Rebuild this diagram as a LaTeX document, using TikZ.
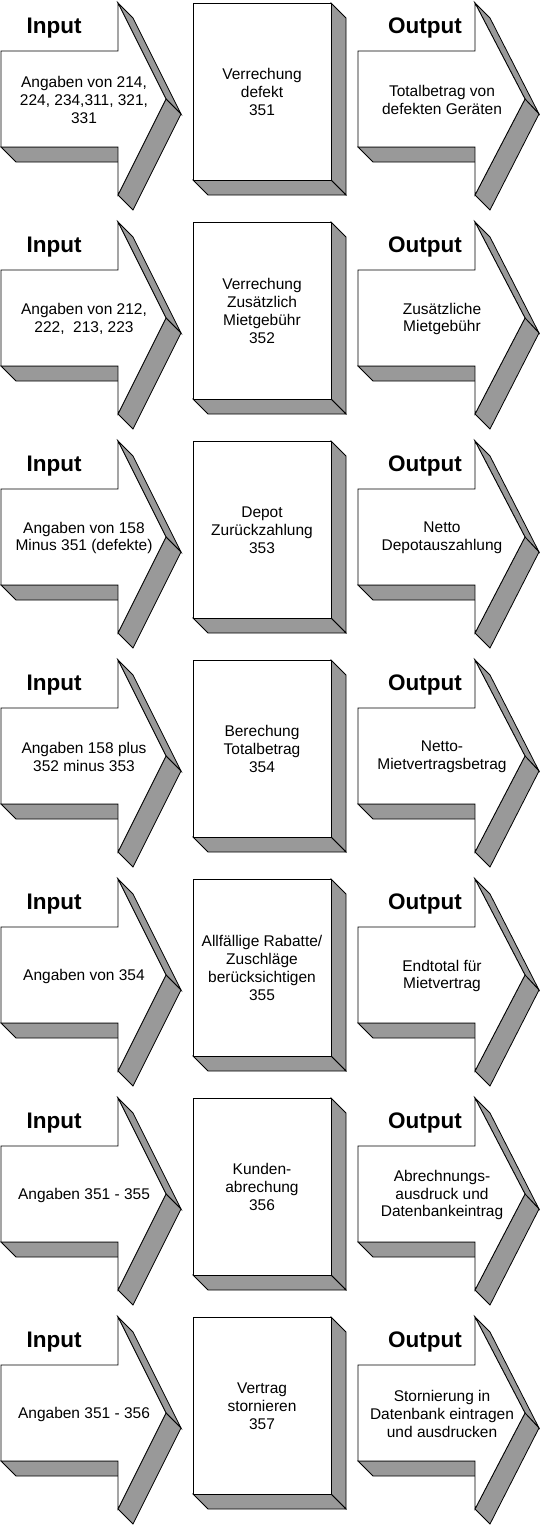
\documentclass[tikz,border=0pt]{standalone}
\usepackage{fontspec}
\setmainfont{Liberation Sans}
\definecolor{sidegray}{RGB}{153,153,153}

\begin{document}
\begin{tikzpicture}[x=1pt,y=-1pt,
        frontface/.style={draw=black, line width=0.8pt, line join=miter, fill=white},
        sideface/.style={draw=black, line width=0.8pt, line join=miter, fill=sidegray},
        heading/.style={font=\fontsize{22.5}{26}\selectfont\bfseries, anchor=base},
        bodytext/.style={font=\fontsize{15.5}{17.8}\selectfont, align=center, inner sep=0pt}]
    \useasboundingbox (0,0) rectangle (540,1526);
    %one row: input arrow, step box, output arrow
    \foreach \r/\intext/\boxtext/\outtext in {
        1/{Angaben von 214,\\224, 234,311, 321,\\331}/{Verrechung\\defekt\\351}/{Totalbetrag von\\defekten Geräten},
        2/{Angaben von 212,\\222,~ 213, 223}/{Verrechung\\Zusätzlich\\Mietgebühr\\352}/{Zusätzliche\\Mietgebühr},
        3/{Angaben von 158\\Minus 351 (defekte)}/{Depot\\Zurückzahlung\\353}/{Netto\\Depotauszahlung},
        4/{Angaben 158 plus\\352 minus 353}/{Berechung\\Totalbetrag\\354}/{Netto-\\Mietvertragsbetrag},
        5/{Angaben von 354}/{Allfällige Rabatte/\\Zuschläge\\berücksichtigen\\355}/{Endtotal für\\Mietvertrag},
        6/{Angaben 351 - 355}/{Kunden-\\abrechung\\356}/{Abrechnungs-\\ausdruck und\\Datenbankeintrag},
        7/{Angaben 351 - 356}/{Vertrag\\stornieren\\357}/{Stornierung in\\Datenbank eintragen\\und ausdrucken}}
    {
    \begin{scope}[shift={(0,3+219*(\r-1))}]
        %input arrow
        \draw[sideface] (1,144) -- (118,144) -- (133,159) -- (16,159) -- cycle;
        \draw[sideface] (118,0) -- (166,96) -- (181,111) -- (133,15) -- cycle;
        \draw[sideface] (166,96) -- (118,192) -- (133,207) -- (181,111) -- cycle;
        \draw[frontface] (1,48) -- (118,48) -- (118,0) -- (166,96)
            -- (118,192) -- (118,144) -- (1,144) -- cycle;
        \node[heading] (inhead\r) at (54,30) {Input};
        \node[bodytext] (in\r) at (84,97) {\intext};
        %step box
        \draw[sideface] (331,0) -- (346,15) -- (346,192) -- (331,177) -- cycle;
        \draw[sideface] (193,177) -- (331,177) -- (346,192) -- (208,192) -- cycle;
        \draw[frontface] (193,0) rectangle (331,177);
        \node[bodytext] (box\r) at (262,89) {\boxtext};
        %output arrow
        \draw[sideface] (358,144) -- (475,144) -- (490,159) -- (373,159) -- cycle;
        \draw[sideface] (475,0) -- (525,96) -- (539,111) -- (490,15) -- cycle;
        \draw[sideface] (525,96) -- (475,192) -- (490,207) -- (539,111) -- cycle;
        \draw[frontface] (358,48) -- (475,48) -- (475,0) -- (525,96)
            -- (475,192) -- (475,144) -- (358,144) -- cycle;
        \node[heading] (outhead\r) at (425,30) {Output};
        \node[bodytext] (out\r) at (442,97) {\outtext};
    \end{scope}
    }
\end{tikzpicture}
\end{document}
